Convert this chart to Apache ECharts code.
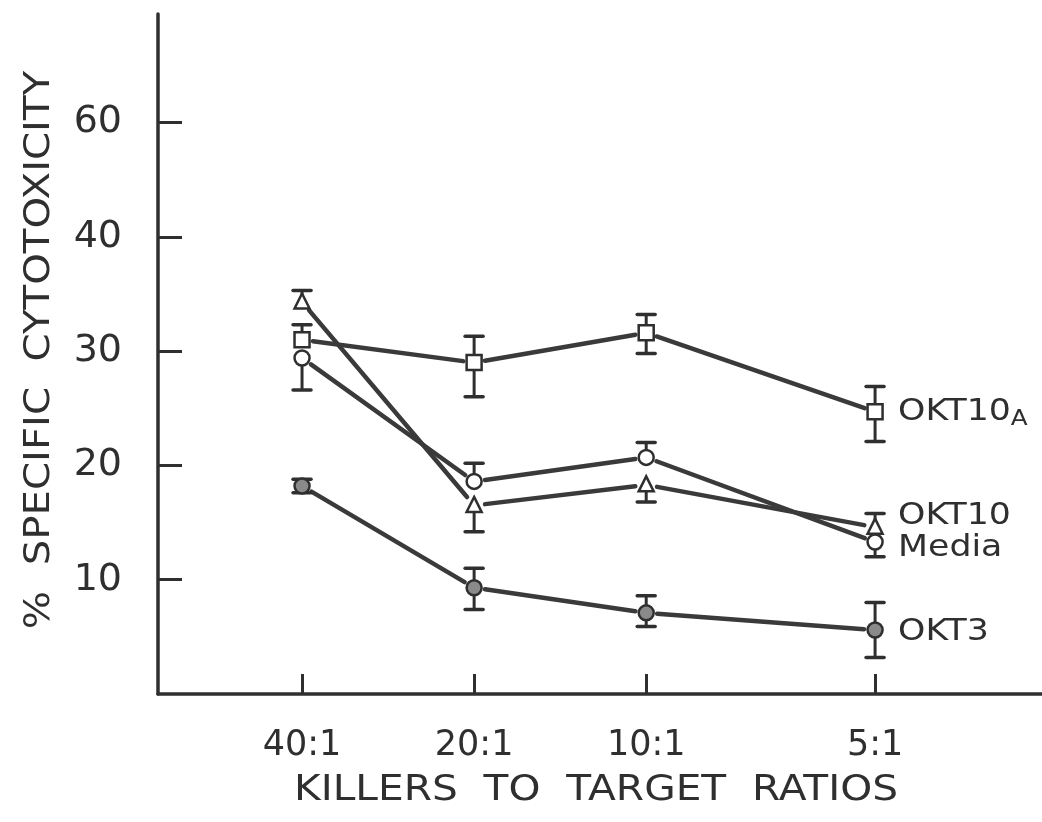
<!DOCTYPE html>
<html><head><meta charset="utf-8">
<style>html,body{margin:0;padding:0;background:#fff}#c{width:1042px;height:822px}</style>
<script src="https://cdn.jsdelivr.net/npm/echarts@6/dist/echarts.min.js"></script>
</head><body><div id="c"></div>
<script>
// ---- data ----
const ratios = ['40:1', '20:1', '10:1', '5:1'];
const ratioPos = [1, 2, 3, 4.33];
const yTickValues = [10, 20, 30, 40, 50];
const yTickLabels = ['10', '20', '30', '40', '60'];
const seriesNames = ['OKT10A', 'OKT10', 'Media', 'OKT3'];
const okt10aVal = [31.0, 29.0, 31.6, 24.7];
const okt10aHi  = [32.3, 31.3, 33.2, 26.9];
const okt10aLo  = [null, 26.0, 29.8, 22.1];
const okt10Val  = [34.3, 16.5, 18.3, 14.6];
const okt10Hi   = [35.3, null, null, 15.8];
const okt10Lo   = [null, 14.2, 16.8, null];
const mediaVal  = [29.4, 18.6, 20.7, 13.3];
const mediaHi   = [null, 20.2, 22.0, null];
const mediaLo   = [26.6, null, null, 12.0];
const okt3Val   = [18.2, 9.3, 7.1, 5.6];
const okt3Hi    = [18.8, 11.0, 8.6, 8.0];
const okt3Lo    = [17.6, 7.4, 5.9, 3.2];

// ---- styles ----
const INK = '#2f2f2f';
const FONT = '"DejaVu Sans", sans-serif';
const groups = [
  {name: seriesNames[0], val: okt10aVal, hi: okt10aHi, lo: okt10aLo, shape: 'square', labelDy: 0},
  {name: seriesNames[1], val: okt10Val, hi: okt10Hi, lo: okt10Lo, shape: 'triangle', labelDy: -11},
  {name: seriesNames[2], val: mediaVal, hi: mediaHi, lo: mediaLo, shape: 'circle', labelDy: 6},
  {name: seriesNames[3], val: okt3Val, hi: okt3Hi, lo: okt3Lo, shape: 'filled', labelDy: 2}
];

function markerShape(shape, cx, cy) {
  const s = 7.5;
  const st = {fill: '#fff', stroke: INK, lineWidth: 2.5};
  if (shape === 'square') return {type: 'rect', shape: {x: cx - s, y: cy - s, width: 2 * s, height: 2 * s}, style: st};
  if (shape === 'triangle') return {type: 'polygon', shape: {points: [[cx, cy - s - 1], [cx + s, cy + s - 1], [cx - s, cy + s - 1]]}, style: st};
  if (shape === 'circle') return {type: 'circle', shape: {cx: cx, cy: cy, r: s}, style: st};
  return {type: 'circle', shape: {cx: cx, cy: cy, r: s}, style: {fill: '#8a8a8a', stroke: INK, lineWidth: 2.5}};
}

function makeSeries(g) {
  return {
    type: 'custom',
    name: g.name,
    data: ratioPos.map((x, i) => [x, g.val[i]]),
    clip: false,
    renderItem: function (params, api) {
      const i = params.dataIndex;
      const p = api.coord([ratioPos[i], g.val[i]]);
      const children = [];
      if (i < ratioPos.length - 1) {
        const q = api.coord([ratioPos[i + 1], g.val[i + 1]]);
        const dx = q[0] - p[0], dy = q[1] - p[1];
        const len = Math.sqrt(dx * dx + dy * dy);
        const gap = 11;
        const ux = dx / len, uy = dy / len;
        children.push({type: 'line', shape: {x1: p[0] + ux * gap, y1: p[1] + uy * gap, x2: q[0] - ux * gap, y2: q[1] - uy * gap},
          style: {stroke: '#3a3a3a', lineWidth: 4.5, lineCap: 'round'}});
      }
      const cap = 9;
      [g.hi[i], g.lo[i]].forEach(function (e) {
        if (e === null) return;
        const c = api.coord([ratioPos[i], e]);
        children.push({type: 'line', shape: {x1: p[0], y1: p[1], x2: c[0], y2: c[1]}, style: {stroke: INK, lineWidth: 3}});
        children.push({type: 'line', shape: {x1: c[0] - cap, y1: c[1], x2: c[0] + cap, y2: c[1]}, style: {stroke: INK, lineWidth: 3.5, lineCap: 'round'}});
      });
      children.push(markerShape(g.shape, p[0], p[1]));
      if (i === ratioPos.length - 1) {
        const parts = g.name === 'OKT10A' ? '{a|OKT10}{s|A}' : '{a|' + g.name + '}';
        children.push({type: 'text', x: p[0] + 23, y: p[1] + g.labelDy, scaleX: 1.12,
          style: {text: parts, verticalAlign: 'middle', align: 'left',
            rich: {a: {fontFamily: FONT, fontSize: 31, fill: INK, verticalAlign: 'middle'},
                   s: {fontFamily: FONT, fontSize: 22, fill: INK, padding: [16, 0, 0, 0]}}}});
      }
      return {type: 'group', children: children};
    },
    z: 3
  };
}

const chart = echarts.init(document.getElementById('c'), null, {renderer: 'canvas'});
chart.setOption({
  backgroundColor: '#ffffff',
  animation: false,
  grid: {left: 158, right: 0, top: 14, bottom: 128, containLabel: false},
  xAxis: {
    type: 'value', min: 0.163, max: 5.3,
    axisLine: {show: true, lineStyle: {color: INK, width: 3.5}},
    axisTick: {show: true, inside: true, length: 20, customValues: ratioPos, lineStyle: {color: INK, width: 3}},
    axisLabel: {show: true, customValues: ratioPos, margin: 34,
      formatter: v => ratios[ratioPos.indexOf(v)] || '',
      fontFamily: FONT, fontSize: 35, color: INK},
    splitLine: {show: false}
  },
  yAxis: {
    type: 'value', min: 0, max: 59.5,
    axisLine: {show: true, lineStyle: {color: INK, width: 3.5}},
    axisTick: {show: true, inside: true, length: 24, customValues: yTickValues, lineStyle: {color: INK, width: 3}},
    axisLabel: {show: true, customValues: yTickValues, margin: 36,
      formatter: v => yTickLabels[yTickValues.indexOf(v)] || '',
      fontFamily: FONT, fontSize: 38, color: INK},
    splitLine: {show: false}
  },
  graphic: [
    {type: 'text', x: 40, y: 350, rotation: Math.PI / 2, scaleX: 1.15,
      style: {text: '%  SPECIFIC  CYTOTOXICITY', fontFamily: FONT, fontSize: 35, fill: INK, align: 'center', verticalAlign: 'middle'}},
    {type: 'text', x: 596, y: 791, scaleX: 1.13,
      style: {text: 'KILLERS  TO  TARGET  RATIOS', fontFamily: FONT, fontSize: 36, fill: INK, align: 'center', verticalAlign: 'middle'}}
  ],
  series: groups.map(makeSeries)
});
</script></body></html>
